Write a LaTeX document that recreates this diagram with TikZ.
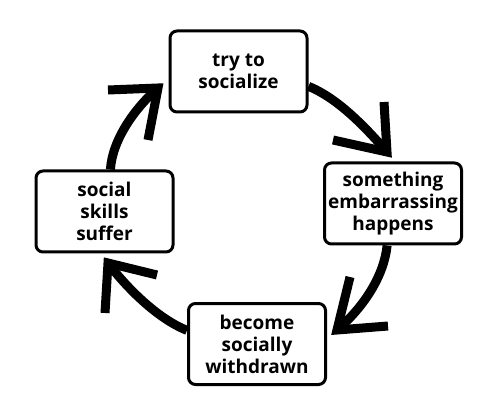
\documentclass[tikz,border=0pt]{standalone}
\usepackage{fontspec}
\setsansfont{Open Sans}
\usetikzlibrary{backgrounds}
\begin{document}
\begin{tikzpicture}[x=1pt,y=-1pt,
  box/.style={draw=black, line width=3pt, rounded corners=7pt, fill=white,
    minimum width=137pt, minimum height=81pt, align=center, inner sep=0pt,
    font=\sffamily\bfseries\fontsize{19}{22}\selectfont},
  curve/.style={line width=9pt, line cap=butt},
  barb/.style={line width=9pt, line cap=butt, line join=miter}]
\useasboundingbox (0,0) rectangle (500,419);
\node[box] (b1) at (238.5,71.5) {try to\\socialize};
\node[box] (b2) at (393,203.5) {something\\embarrassing\\happens};
\node[box] (b3) at (104.5,211.5) {social\\skills\\suffer};
\node[box] (b4) at (257,344) {become\\socially\\withdrawn};
\coordinate (t1) at (387,152);
\coordinate (t1a) at (384,102);
\coordinate (t1b) at (333,140);
\coordinate (t2) at (337,330);
\coordinate (t2a) at (350,277);
\coordinate (t2b) at (388,326);
\coordinate (t3) at (108,263);
\coordinate (t3a) at (157,275);
\coordinate (t3b) at (105,313);
\coordinate (t4) at (158,88);
\coordinate (t4a) at (108,90);
\coordinate (t4b) at (148,140);
\begin{pgfonlayer}{background}
\draw[curve] (b1.-12.6) .. controls +(30,12) and +(-20,-23) .. (t1);
\draw[barb] (t1a) -- (t1) -- (t1b);
\draw[curve] (b2.-98) .. controls +(-3,30) and +(27,-23) .. (t2);
\draw[barb] (t2a) -- (t2) -- (t2b);
\draw[curve] (b4.169) .. controls +(-30,-12) and +(18,24) .. (t3);
\draw[barb] (t3a) -- (t3) -- (t3b);
\draw[curve] (b3.82.5) .. controls +(2,-30) and +(-23,20) .. (t4);
\draw[barb] (t4a) -- (t4) -- (t4b);
\end{pgfonlayer}
\end{tikzpicture}
\end{document}
